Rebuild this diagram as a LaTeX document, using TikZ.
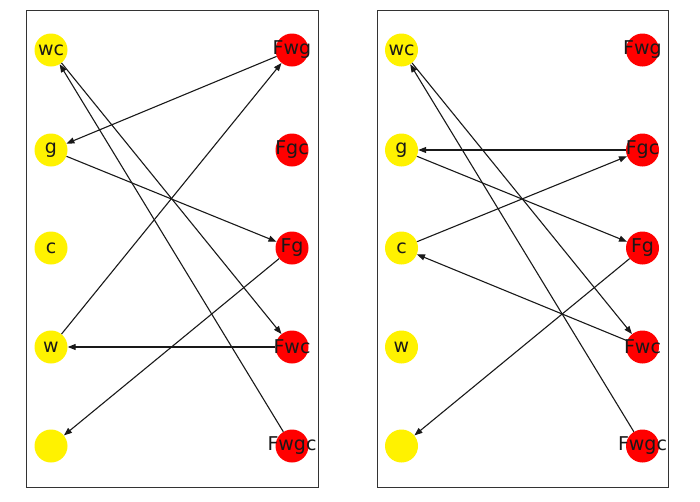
\documentclass[tikz,border=0pt]{standalone}
\usepackage{fontspec}
\setmainfont{DejaVu Sans}
\usetikzlibrary{arrows.meta}

\tikzset{
  river edge/.style={line width=1.1pt,draw=black!90,-{Triangle[length=8pt,width=6pt]}},
  left bank/.style={circle,fill=yellow,minimum size=33pt,inner sep=0pt,
    label={[font=\fontsize{19}{19}\selectfont,text=black!90]center:#1}},
  right bank/.style={circle,fill=red,minimum size=33pt,inner sep=0pt,
    label={[font=\fontsize{19}{19}\selectfont,text=black!90]center:#1}},
  panel frame/.style={draw=black!80,line width=1pt}
}

\begin{document}
\begin{tikzpicture}[x=1pt,y=-1pt]
      \useasboundingbox (0,0) rectangle (700,501);
      \draw[panel frame] (26,10) rectangle (318,487);
      \draw[panel frame] (377,10) rectangle (668,487);
      % both panels share the same states
      \foreach \p/\dx in {L/0,R/350.5} {
        \foreach \n/\y in {wc/50,g/150,c/248,w/347} {
          \node[left bank=\n] (\p\n) at (51+\dx,\y) {};
        }
        \node[left bank={}] (\p e) at (51+\dx,446) {};
        \foreach \n/\y in {Fwg/50,Fgc/150,Fg/248,Fwc/347,Fwgc/446} {
          \node[right bank=\n] (\p\n) at (292+\dx,\y) {};
        }
      }
      % left panel
      \draw[river edge] (LFwg) -- (Lg);
      \draw[river edge] (Lg) -- (LFg);
      \draw[river edge] (LFg) -- (Le);
      \draw[river edge] (Lw) -- (LFwg);
      \draw[river edge] (LFwc) -- (Lw);
      \draw[river edge] (Lwc) -- (LFwc);
      \draw[river edge] (LFwgc) -- (Lwc);
      % right panel
      \draw[river edge] (RFgc) -- (Rg);
      \draw[river edge] (Rg) -- (RFg);
      \draw[river edge] (Rc) -- (RFgc);
      \draw[river edge] (RFwc) -- (Rc);
      \draw[river edge] (RFg) -- (Re);
      \draw[river edge] (Rwc) -- (RFwc);
      \draw[river edge] (RFwgc) -- (Rwc);
    \end{tikzpicture}
\end{document}
